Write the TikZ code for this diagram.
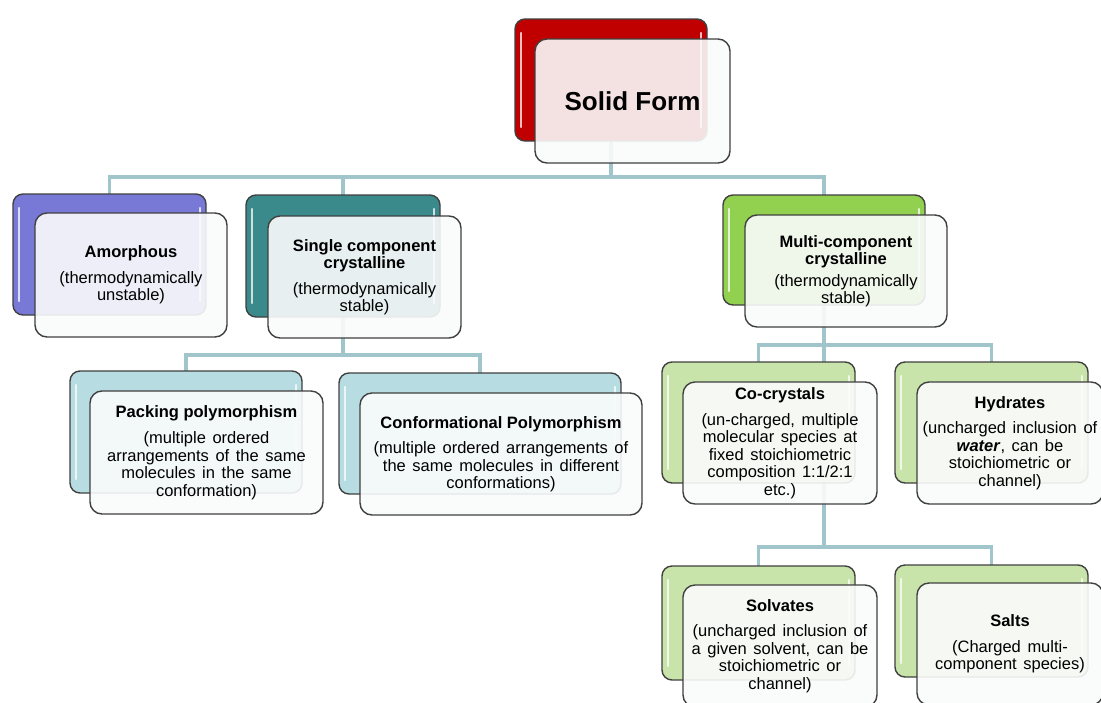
\documentclass[tikz,border=0pt]{standalone}
\usepackage{fontspec}
\setmainfont{Liberation Sans}
\usetikzlibrary{backgrounds}
\definecolor{cRed}{RGB}{192,0,0}
\definecolor{cPurple}{RGB}{120,120,214}
\definecolor{cTeal}{RGB}{58,138,140}
\definecolor{cGreen}{RGB}{146,208,80}
\definecolor{cLTeal}{RGB}{183,221,226}
\definecolor{cLGreen}{RGB}{200,228,170}
\definecolor{frontfill}{RGB}{250,251,251}
\definecolor{conncol}{RGB}{160,198,204}
\definecolor{edgecol}{RGB}{64,64,64}
\newcommand\boxfont{\fontsize{16.5}{17.5}\selectfont\spaceskip=0.4em plus 0.1em minus 0.05em\relax}
\newcommand\ttl[1]{{\bfseries\spaceskip=0pt\relax #1}}
\tikzset{
  backbox/.style={draw=edgecol, line width=1.4pt, rounded corners=10pt, inner sep=0pt,
    path picture={
      \draw[white, opacity=0.75, line width=2.4pt, line cap=round]
        ([xshift=6pt,yshift=-14pt]path picture bounding box.north west) --
        ([xshift=6pt,yshift=14pt]path picture bounding box.south west);
      \draw[white, opacity=0.75, line width=2.4pt, line cap=round]
        ([xshift=-6pt,yshift=-14pt]path picture bounding box.north east) --
        ([xshift=-6pt,yshift=14pt]path picture bounding box.south east);
    }},
  frontbox/.style={draw=edgecol, line width=1.4pt, rounded corners=12pt, fill=frontfill,
    fill opacity=0.9, text opacity=1, inner sep=0pt, align=center, font=\boxfont},
  conn/.style={draw=conncol, line width=3.2pt},
}
\begin{document}
\begin{tikzpicture}[x=1pt, y=-1pt]
\useasboundingbox (0,0) rectangle (1101,702);
\clip (0,0) rectangle (1101,702);

% Solid Form
\node[backbox, fill=cRed, minimum width=192pt, minimum height=122pt] (solidB) at (611,80) {};
\node[frontbox, minimum width=195pt, minimum height=124pt] (solid) at (632.5,101)
  {\fontsize{26}{30}\selectfont\ttl{Solid Form}};

% Amorphous
\node[backbox, fill=cPurple, minimum width=193pt, minimum height=121pt] (amorB) at (109.5,254.5) {};
\node[frontbox, minimum width=192pt, minimum height=124pt] (amor) at (131,275)
  {\ttl{Amorphous}\\[8pt](thermodynamically\\unstable)};

% Single component
\node[backbox, fill=cTeal, minimum width=194pt, minimum height=122pt] (singleB) at (343,256) {};
\node[frontbox, minimum width=193pt, minimum height=122pt] (single) at (364.5,277)
  {\ttl{Single component}\\\ttl{crystalline}\\[8pt](thermodynamically\\stable)};

% Multi component
\node[backbox, fill=cGreen, minimum width=202pt, minimum height=110pt] (multiB) at (824,250) {};
\node[frontbox, minimum width=202pt, minimum height=112pt] (multi) at (846,271)
  {\ttl{Multi-component}\\\ttl{crystalline}\\[4pt](thermodynamically\\stable)};

% Packing polymorphism
\node[backbox, fill=cLTeal, minimum width=232pt, minimum height=122pt] (packB) at (186,432) {};
\node[frontbox, minimum width=233pt, minimum height=123pt] (pack) at (206.5,452.5)
  {\ttl{Packing polymorphism}\\[9pt](multiple ordered\\arrangements of the same\\molecules in the same\\conformation)};

% Conformational polymorphism
\node[backbox, fill=cLTeal, minimum width=282pt, minimum height=121pt] (confB) at (480,433.5) {};
\node[frontbox, minimum width=282pt, minimum height=122pt] (conf) at (501,454)
  {\ttl{Conformational Polymorphism}\\[8pt](multiple ordered arrangements of\\the same molecules in different\\conformations)};

% Co-crystals
\node[backbox, fill=cLGreen, minimum width=193pt, minimum height=121pt] (coB) at (758.5,422.5) {};
\node[frontbox, minimum width=194pt, minimum height=122pt] (co) at (780,443)
  {\ttl{Co-crystals}\\[8pt](un-charged, multiple\\molecular species at\\fixed stoichiometric\\composition 1:1/2:1\\etc.)};

% Hydrates
\node[backbox, fill=cLGreen, minimum width=193pt, minimum height=121pt] (hydB) at (991.5,422.5) {};
\node[frontbox, minimum width=186pt, minimum height=122pt] (hyd) at (1010,443)
  {\ttl{Hydrates}\\[8pt](uncharged inclusion of\\\textbf{\textit{water}}, can be\\stoichiometric or\\channel)};

% Solvates
\node[backbox, fill=cLGreen, minimum width=193pt, minimum height=114pt] (solvB) at (758.5,623) {};
\node[frontbox, minimum width=194pt, minimum height=122pt] (solv) at (780,646)
  {\ttl{Solvates}\\[8pt](uncharged inclusion of\\a given solvent, can be\\stoichiometric or\\channel)};

% Salts
\node[backbox, fill=cLGreen, minimum width=193pt, minimum height=112pt] (saltB) at (991.5,621) {};
\node[frontbox, minimum width=186pt, minimum height=122pt] (salt) at (1010,644)
  {\ttl{Salts}\\[8pt](Charged multi-\\component species)};

\coordinate (j0) at (611,177);
\coordinate (j1) at (343,355);
\coordinate (j2) at (824,345);
\coordinate (j3) at (824,547);

\begin{pgfonlayer}{background}
  \fill[white] (0,0) rectangle (1101,702);
  \draw[conn] (solidB.center) -- (j0);
  \draw[conn] (amorB.center) |- (j0) -| (multiB.center);
  \draw[conn] (j0) -| (singleB.center);
  \draw[conn] (singleB.center) -- (j1);
  \draw[conn] (packB.center) |- (j1) -| (confB.center);
  \draw[conn] (multiB.center) -- (j2);
  \draw[conn] (coB.center) |- (j2) -| (hydB.center);
  \draw[conn] (j2) -- (j3);
  \draw[conn] (solvB.center) |- (j3) -| (saltB.center);
\end{pgfonlayer}
\end{tikzpicture}
\end{document}
